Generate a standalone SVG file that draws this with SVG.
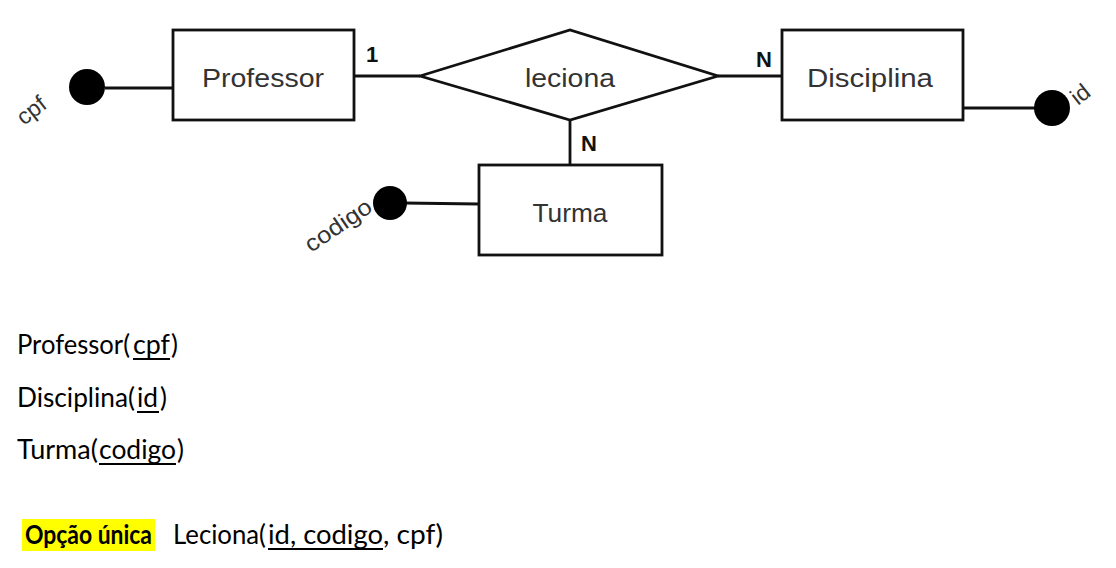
<svg xmlns="http://www.w3.org/2000/svg" width="1116" height="568" viewBox="0 0 1116 568">
<style>
.box{fill:#fff;stroke:#111;stroke-width:2.8}
.ln{stroke:#111;stroke-width:2.8;fill:none}
.dot{fill:#000}
.lbl{font-family:"Liberation Sans",Arial,sans-serif;font-size:25px;fill:#333;text-anchor:middle}
.att{font-family:"Liberation Sans",Arial,sans-serif;font-size:23px;fill:#333}
.card{font-family:"Liberation Sans",Arial,sans-serif;font-size:22px;font-weight:bold;fill:#111}
.rel{font-family:Lato,"Liberation Sans",sans-serif;font-size:26px;fill:#000}
.ul{stroke:#000;stroke-width:2}
</style>
<rect width="1116" height="568" fill="#fff"/>
<g id="connectors">
<line class="ln" x1="105" y1="88" x2="173" y2="88"/>
<line class="ln" x1="354" y1="76" x2="420" y2="76"/>
<line class="ln" x1="718" y1="76" x2="782" y2="76"/>
<line class="ln" x1="570" y1="120" x2="570" y2="165"/>
<line class="ln" x1="963" y1="108" x2="1040" y2="108"/>
<line class="ln" x1="403" y1="203" x2="479" y2="204"/>
<text class="card" x="366" y="62">1</text>
<text class="card" x="756" y="67">N</text>
<text class="card" x="581" y="151">N</text>
</g>
<g id="professor">
<rect class="box" x="173" y="30" width="181" height="90"/>
<text class="lbl" x="263" y="87" textLength="122" lengthAdjust="spacingAndGlyphs">Professor</text>
</g>
<g id="attr-cpf">
<circle class="dot" cx="87" cy="87" r="18"/>
<text class="att" transform="translate(24,126) rotate(-38)">cpf</text>
</g>
<g id="leciona">
<polygon class="box" points="420,76 570,30 718,76 570,120"/>
<text class="lbl" x="570" y="87" textLength="90" lengthAdjust="spacingAndGlyphs">leciona</text>
</g>
<g id="disciplina">
<rect class="box" x="782" y="30" width="181" height="90"/>
<text class="lbl" x="870" y="87" textLength="126" lengthAdjust="spacingAndGlyphs">Disciplina</text>
</g>
<g id="attr-id">
<circle class="dot" cx="1052" cy="108" r="18"/>
<text class="att" transform="translate(1078,106) rotate(-38)">id</text>
</g>
<g id="turma">
<rect class="box" x="479" y="165" width="183" height="90"/>
<text class="lbl" x="570" y="222" textLength="75" lengthAdjust="spacingAndGlyphs">Turma</text>
</g>
<g id="attr-codigo">
<circle class="dot" cx="390" cy="203" r="17"/>
<text class="att" transform="translate(311,253) rotate(-34)" textLength="76" lengthAdjust="spacingAndGlyphs">codigo</text>
</g>
<g id="relations">
<text class="rel" x="17" y="354" textLength="113" lengthAdjust="spacingAndGlyphs">Professor(</text>
<text class="rel" x="133" y="354" textLength="37" lengthAdjust="spacingAndGlyphs">cpf</text>
<text class="rel" x="171" y="354">)</text>
<line class="ul" x1="133" y1="359" x2="170" y2="359"/>
<text class="rel" x="17" y="407" textLength="118" lengthAdjust="spacingAndGlyphs">Disciplina(</text>
<text class="rel" x="137" y="407" textLength="21" lengthAdjust="spacingAndGlyphs">id</text>
<text class="rel" x="160" y="407">)</text>
<line class="ul" x1="137" y1="412" x2="159" y2="412"/>
<text class="rel" x="17" y="459" textLength="81" lengthAdjust="spacingAndGlyphs">Turma(</text>
<text class="rel" x="99" y="459" textLength="77" lengthAdjust="spacingAndGlyphs">codigo</text>
<text class="rel" x="177" y="459">)</text>
<line class="ul" x1="99" y1="464" x2="176" y2="464"/>
<rect x="22" y="519" width="133" height="32" fill="#ffff00"/>
<text class="rel" x="25" y="544" font-weight="bold" textLength="127" lengthAdjust="spacingAndGlyphs">Opção única</text>
<text class="rel" x="173" y="544" textLength="93" lengthAdjust="spacingAndGlyphs">Leciona(</text>
<text class="rel" x="268" y="544" textLength="115" lengthAdjust="spacingAndGlyphs">id, codigo</text>
<text class="rel" x="383" y="544" textLength="60" lengthAdjust="spacingAndGlyphs">, cpf)</text>
<line class="ul" x1="268" y1="549" x2="383" y2="549"/>
</g>
</svg>
